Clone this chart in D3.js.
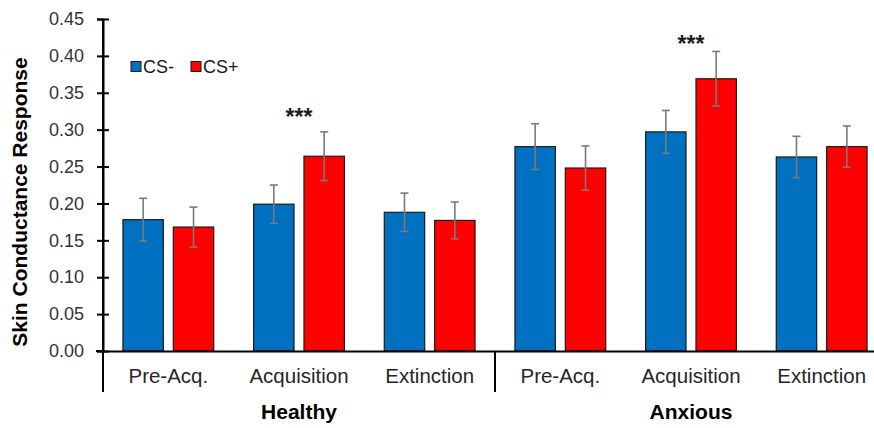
<!DOCTYPE html>
<html>
<head>
<meta charset="utf-8">
<script src="https://cdn.jsdelivr.net/npm/d3@7"></script>
<style>
  html, body { margin: 0; padding: 0; background: #fff; }
  svg { display: block; font-family: Arial, "Liberation Sans", sans-serif; }
</style>
</head>
<body>
<svg id="chart" width="874" height="428"></svg>
<script>
// Skin conductance response by group, phase and stimulus type
const groups = ["Healthy", "Anxious"];
const phases = ["Pre-Acq.", "Acquisition", "Extinction"];
const series = ["CS-", "CS+"];
const seriesColors = ["#0070C0", "#FF0000"];

// means, in phase order, Healthy then Anxious
const csMinus    = [0.178, 0.199, 0.188, 0.277, 0.297, 0.263];
const csPlus     = [0.168, 0.264, 0.177, 0.248, 0.369, 0.277];
// standard errors
const csMinusErr = [0.029, 0.026, 0.026, 0.031, 0.029, 0.028];
const csPlusErr  = [0.027, 0.033, 0.025, 0.030, 0.037, 0.028];

// significance markers: category index, label, height in data units
const sigCats   = [1, 4];
const sigLabels = ["***", "***"];
const sigY      = [0.320, 0.419];

const yTicks = [0, 0.05, 0.10, 0.15, 0.20, 0.25, 0.30, 0.35, 0.40, 0.45];

const svg = d3.select("#chart");

const cats = [];
groups.forEach(g => phases.forEach(p => cats.push({ group: g, phase: p, key: g + "|" + p })));

const x0 = d3.scaleBand()
  .domain(cats.map(c => c.key))
  .range([103, 887])
  .paddingInner(0).paddingOuter(0);

const x1 = d3.scaleBand()
  .domain(series)
  .range([0, x0.bandwidth()])
  .paddingInner(0.198)
  .paddingOuter(0.396);

const y = d3.scaleLinear().domain([0, 0.45]).range([351, 19]);
const color = d3.scaleOrdinal().domain(series).range(seriesColors);

const values = { "CS-": csMinus, "CS+": csPlus };
const errors = { "CS-": csMinusErr, "CS+": csPlusErr };

const barData = [];
cats.forEach((c, i) => series.forEach(s => barData.push({
  key: c.key, s, v: values[s][i], e: errors[s][i]
})));

// bars
svg.append("g").selectAll("rect").data(barData).join("rect")
  .attr("x", d => x0(d.key) + x1(d.s))
  .attr("y", d => y(d.v))
  .attr("width", x1.bandwidth())
  .attr("height", d => y(0) - y(d.v))
  .attr("fill", d => color(d.s))
  .attr("stroke", "#1a1a1a")
  .attr("stroke-width", 1.2);

// error bars
const eb = svg.append("g").attr("stroke", "#7a7a7a").attr("stroke-width", 1.6);
barData.forEach(d => {
  const cx = x0(d.key) + x1(d.s) + x1.bandwidth() / 2;
  eb.append("line").attr("x1", cx).attr("x2", cx).attr("y1", y(d.v + d.e)).attr("y2", y(d.v - d.e));
  eb.append("line").attr("x1", cx - 4).attr("x2", cx + 4).attr("y1", y(d.v + d.e)).attr("y2", y(d.v + d.e));
  eb.append("line").attr("x1", cx - 4).attr("x2", cx + 4).attr("y1", y(d.v - d.e)).attr("y2", y(d.v - d.e));
});

// y axis
const yAxis = svg.append("g")
  .attr("transform", "translate(103,0)")
  .call(d3.axisLeft(y).tickValues(yTicks).tickFormat(d3.format(".2f")).tickSizeOuter(0).tickSize(6));
yAxis.select(".domain").attr("stroke", "#000").attr("stroke-width", 2);
yAxis.selectAll(".tick line").attr("x1", 6).attr("x2", -6).attr("stroke", "#000").attr("stroke-width", 2);
yAxis.selectAll(".tick text").attr("x", -19).attr("font-size", 18).attr("fill", "#333")
  .attr("font-family", "Arial, 'Liberation Sans', sans-serif");

// x axis with phase labels
const xAxis = svg.append("g")
  .attr("transform", "translate(0,351)")
  .call(d3.axisBottom(x0).tickSize(0).tickSizeOuter(0).tickFormat(k => k.split("|")[1]));
xAxis.select(".domain").attr("stroke", "#000").attr("stroke-width", 2);
xAxis.selectAll(".tick text").attr("dy", 0).attr("y", 32).attr("font-size", 20.5).attr("fill", "#262626")
  .attr("font-family", "Arial, 'Liberation Sans', sans-serif");
// extend the axis line left to meet the zero tick
svg.append("line").attr("x1", 96).attr("x2", 104).attr("y1", 351).attr("y2", 351)
  .attr("stroke", "#000").attr("stroke-width", 2);

// group dividers and group names
const dividers = svg.append("g").attr("stroke", "#000").attr("stroke-width", 2);
groups.forEach((g, gi) => {
  const first = x0(g + "|" + phases[0]);
  const last = x0(g + "|" + phases[phases.length - 1]) + x0.bandwidth();
  dividers.append("line").attr("x1", first).attr("x2", first).attr("y1", 351).attr("y2", 392);
  dividers.append("line").attr("x1", last).attr("x2", last).attr("y1", 351).attr("y2", 392);
  svg.append("text")
    .attr("x", (first + last) / 2).attr("y", 419)
    .attr("text-anchor", "middle")
    .attr("font-size", 21).attr("font-weight", "bold").attr("fill", "#000")
    .text(g);
});
// y axis continues below the baseline
svg.append("line").attr("x1", 103).attr("x2", 103).attr("y1", 19).attr("y2", 392)
  .attr("stroke", "#000").attr("stroke-width", 2);

// significance stars
sigCats.forEach((ci, i) => {
  const c = cats[ci];
  svg.append("text")
    .attr("x", x0(c.key) + x0.bandwidth() / 2)
    .attr("y", y(sigY[i]) + 10)
    .attr("text-anchor", "middle")
    .attr("font-size", 23).attr("font-weight", "bold").attr("fill", "#1a1a1a")
    .text(sigLabels[i]);
});

// y axis title
svg.append("text")
  .attr("transform", "translate(27,202) rotate(-90)")
  .attr("text-anchor", "middle")
  .attr("font-size", 21).attr("font-weight", "bold").attr("fill", "#000")
  .text("Skin Conductance Response");

// legend
const legendX = [131, 191];
const legend = svg.append("g");
series.forEach((s, i) => {
  legend.append("rect")
    .attr("x", legendX[i]).attr("y", 61.5).attr("width", 10).attr("height", 10)
    .attr("fill", color(s)).attr("stroke", "#1a1a1a").attr("stroke-width", 1);
  legend.append("text")
    .attr("x", legendX[i] + 12).attr("y", 73)
    .attr("font-size", 18).attr("fill", "#1a1a1a")
    .text(s);
});
</script>
</body>
</html>
